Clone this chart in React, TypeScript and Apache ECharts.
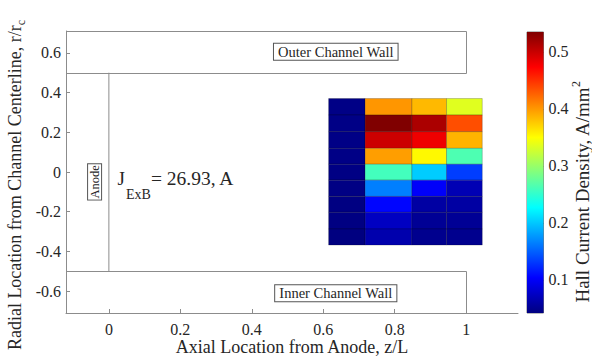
import React, { useEffect, useRef } from 'react';
import * as echarts from 'echarts';

const FONT = "'Liberation Serif', 'Times New Roman', serif";

// ---- Data ----
const zTicks = [0, 0.2, 0.4, 0.6, 0.8, 1];
const rTicks = [-0.6, -0.4, -0.2, 0, 0.2, 0.4, 0.6];
const cbTicks = [0.1, 0.2, 0.3, 0.4, 0.5];

// cell edges of the Hall current density map
const zEdges = [0.615, 0.717, 0.848, 0.945, 1.045];
const rEdges = [0.37, 0.287, 0.203, 0.119, 0.039, -0.041, -0.123, -0.203, -0.287, -0.368];

// Hall current density (A/mm^2), one array per axial column, rows top -> bottom
const col1 = [0.045, 0.045, 0.045, 0.045, 0.044, 0.044, 0.043, 0.043, 0.042];
const col2 = [0.401, 0.535, 0.498, 0.397, 0.259, 0.165, 0.106, 0.074, 0.064];
const col3 = [0.384, 0.514, 0.481, 0.353, 0.202, 0.101, 0.059, 0.052, 0.049];
const col4 = [0.335, 0.436, 0.387, 0.264, 0.133, 0.067, 0.059, 0.052, 0.049];
const columns = [col1, col2, col3, col4];

const densityMin = 0.042;
const densityMax = 0.535;

// axis extents
const zMin = -0.12;
const zMax = 1.145;
const rMin = -0.71;
const rMax = 0.71;

// channel geometry
const outerWall = [zMin, 1.0, 0.5, rMax];
const innerWall = [zMin, 1.0, rMin, -0.5];
const anodeLine = [[0, -0.5], [0, 0.5]];

const jExB = 26.93;

const jet = ['#000080', '#0000ff', '#0080ff', '#00ffff', '#80ff80', '#ffff00', '#ff8000', '#ff0000', '#800000'];

const cells: number[][] = [];
columns.forEach((col, j) => {
  col.forEach((v, i) => {
    cells.push([zEdges[j], zEdges[j + 1], rEdges[i + 1], rEdges[i], v]);
  });
});

const TEXT = '#262626';
const LINE = '#8c8c8c';

function tickText(text: string, x: number, y: number, align: string, verticalAlign: string) {
  return {
    type: 'text', x, y,
    style: { text, fontFamily: FONT, fontSize: 16, fill: TEXT, align, verticalAlign },
  };
}

function buildOption() {
  return {
    animation: false,
    textStyle: { fontFamily: FONT, color: TEXT },
    grid: [
      { left: 66, top: 31, width: 452, height: 282, show: false, containLabel: false, outerBoundsMode: 'none' },
      { left: 527, top: 32, width: 16.5, height: 281, show: true, borderColor: '#7a7a7a', borderWidth: 1, backgroundColor: 'transparent', containLabel: false, outerBoundsMode: 'none' },
    ],
    xAxis: [
      {
        type: 'value', gridIndex: 0, min: zMin, max: zMax,
        name: 'Axial Location from Anode, z/L', nameLocation: 'middle', nameGap: 25,
        nameTextStyle: { fontFamily: FONT, fontSize: 18, color: TEXT },
        axisLine: { onZero: false, lineStyle: { color: LINE, width: 1 } },
        axisTick: { inside: true, length: 4, lineStyle: { color: LINE }, customValues: zTicks },
        axisLabel: { show: false },
        splitLine: { show: false },
      },
      { type: 'value', gridIndex: 1, min: 0, max: 1, show: false },
    ],
    yAxis: [
      {
        type: 'value', gridIndex: 0, min: rMin, max: rMax,
        axisLine: { show: true, onZero: false, lineStyle: { color: LINE, width: 1 } },
        axisTick: { show: true, inside: true, length: 4, lineStyle: { color: LINE }, customValues: rTicks },
        axisLabel: { show: false },
        splitLine: { show: false },
      },
      {
        type: 'value', gridIndex: 1, min: densityMin, max: densityMax, position: 'right',
        axisLine: { show: false, onZero: false },
        axisTick: { show: true, inside: true, length: 3, lineStyle: { color: '#555' }, customValues: cbTicks },
        axisLabel: { show: false },
        splitLine: { show: false },
      },
    ],
    visualMap: {
      show: false, type: 'continuous', seriesIndex: 0, dimension: 4,
      min: densityMin, max: densityMax, inRange: { color: jet },
    },
    graphic: [
      {
        type: 'text', x: 15, y: 185, rotation: Math.PI / 2,
        style: {
          text: 'Radial Location from Channel Centerline, r/r{s|c}', fontFamily: FONT, fontSize: 18, fill: TEXT,
          align: 'center', verticalAlign: 'middle',
          rich: { s: { fontFamily: FONT, fontSize: 12, fill: TEXT, padding: [12, 0, 0, 0] } },
        },
      },
      {
        type: 'text', x: 582, y: 192, rotation: Math.PI / 2,
        style: {
          text: 'Hall Current Density, A/mm{p|2}', fontFamily: FONT, fontSize: 19, fill: TEXT,
          align: 'center', verticalAlign: 'middle',
          rich: { p: { fontFamily: FONT, fontSize: 12, fill: TEXT, padding: [0, 0, 12, 0] } },
        },
      },
    ],
    series: [
      {
        type: 'custom', name: 'Hall current density', xAxisIndex: 0, yAxisIndex: 0,
        data: cells, encode: { x: [0, 1], y: [2, 3] },
        renderItem: (params: any, api: any) => {
          const p0 = api.coord([api.value(0), api.value(3)]);
          const p1 = api.coord([api.value(1), api.value(2)]);
          return {
            type: 'rect',
            shape: { x: p0[0], y: p0[1], width: p1[0] - p0[0], height: p1[1] - p0[1] },
            style: { fill: api.visual('color'), stroke: 'rgba(0,0,0,0.3)', lineWidth: 0.7 },
          };
        },
        z: 3,
      },
      {
        type: 'custom', name: 'walls', xAxisIndex: 0, yAxisIndex: 0,
        data: [outerWall, innerWall], encode: { x: [0, 1], y: [2, 3] },
        renderItem: (params: any, api: any) => {
          const p0 = api.coord([api.value(0), api.value(3)]);
          const p1 = api.coord([api.value(1), api.value(2)]);
          const x0 = Math.round(p0[0]) + 0.5, y0 = Math.round(p0[1]) + 0.5;
          const x1 = Math.round(p1[0]) + 0.5, y1 = Math.round(p1[1]) + 0.5;
          return {
            type: 'rect',
            shape: { x: x0, y: y0, width: x1 - x0, height: y1 - y0 },
            style: { fill: 'none', stroke: LINE, lineWidth: 1 },
          };
        },
        z: 2,
      },
      {
        type: 'line', name: 'anode', xAxisIndex: 0, yAxisIndex: 0,
        data: anodeLine, symbol: 'none', lineStyle: { color: LINE, width: 1 }, z: 2,
      },
      {
        type: 'custom', name: 'labels', xAxisIndex: 0, yAxisIndex: 0,
        data: [[0.635, 0.605, 0], [0.635, -0.61, 1], [-0.04, -0.05, 2], [0.024, -0.035, 3]],
        encode: { x: 0, y: 1 },
        renderItem: (params: any, api: any) => {
          const p = api.coord([api.value(0), api.value(1)]);
          const k = api.value(2);
          const boxStyle = { fill: TEXT, fontFamily: FONT, align: 'center', verticalAlign: 'middle', borderColor: '#555', borderWidth: 1, backgroundColor: '#fff' };
          if (k === 0 || k === 1) {
            return {
              type: 'text', x: p[0], y: p[1],
              style: { ...boxStyle, text: k === 0 ? 'Outer Channel Wall' : 'Inner Channel Wall', fontSize: 14.5, padding: [1, 4, 0, 4] },
            };
          }
          if (k === 2) {
            return {
              type: 'text', x: p[0], y: p[1], rotation: Math.PI / 2,
              style: { ...boxStyle, text: 'Anode', fontSize: 12.5, padding: [0, 1, 0, 1] },
            };
          }
          return {
            type: 'group', x: p[0], y: p[1],
            children: [
              { type: 'text', x: 0, y: 0, style: { text: 'J', fontFamily: FONT, fontSize: 19, fill: TEXT, align: 'left', verticalAlign: 'middle' } },
              { type: 'text', x: 8.5, y: 16, style: { text: 'ExB', fontFamily: FONT, fontSize: 14, fill: TEXT, align: 'left', verticalAlign: 'middle' } },
              { type: 'text', x: 33.5, y: 0, style: { text: '= ' + jExB.toFixed(2) + ', A', fontFamily: FONT, fontSize: 19.5, fill: TEXT, align: 'left', verticalAlign: 'middle' } },
            ],
          };
        },
        z: 4,
      },
      {
        type: 'custom', name: 'z tick labels', xAxisIndex: 0, yAxisIndex: 0,
        data: zTicks.map((z) => [z, rMin]), encode: { x: 0, y: 1 },
        renderItem: (params: any, api: any) => {
          const p = api.coord([api.value(0), api.value(1)]);
          return tickText(String(api.value(0)), p[0], p[1] + 8, 'center', 'top');
        },
        z: 4,
      },
      {
        type: 'custom', name: 'r tick labels', xAxisIndex: 0, yAxisIndex: 0,
        data: rTicks.map((r) => [zMin, r]), encode: { x: 0, y: 1 },
        renderItem: (params: any, api: any) => {
          const p = api.coord([api.value(0), api.value(1)]);
          return tickText(String(api.value(1)), p[0] - 5, p[1], 'right', 'middle');
        },
        z: 4,
      },
      {
        type: 'custom', name: 'colorbar', xAxisIndex: 1, yAxisIndex: 1,
        data: [[0, 1, densityMin, densityMax]], encode: { x: [0, 1], y: [2, 3] },
        renderItem: (params: any, api: any) => {
          const p0 = api.coord([api.value(0), api.value(3)]);
          const p1 = api.coord([api.value(1), api.value(2)]);
          return {
            type: 'rect',
            shape: { x: p0[0], y: p0[1], width: p1[0] - p0[0], height: p1[1] - p0[1] },
            style: {
              fill: {
                type: 'linear', x: 0, y: 1, x2: 0, y2: 0,
                colorStops: jet.map((c, i) => ({ offset: i / (jet.length - 1), color: c })),
              },
            },
          };
        },
        z: 1,
      },
      {
        type: 'custom', name: 'colorbar tick labels', xAxisIndex: 1, yAxisIndex: 1,
        data: cbTicks.map((v) => [1, v]), encode: { x: 0, y: 1 },
        renderItem: (params: any, api: any) => {
          const p = api.coord([api.value(0), api.value(1)]);
          return tickText(String(api.value(1)), p[0] + 5, p[1], 'left', 'middle');
        },
        z: 4,
      },
    ],
  };
}

export default function App() {
  const ref = useRef<HTMLDivElement>(null);
  useEffect(() => {
    const chart = echarts.init(ref.current!, null, { renderer: 'svg' });
    chart.setOption(buildOption() as any);
    return () => chart.dispose();
  }, []);
  return <div ref={ref} style={{ position: 'absolute', left: 0, top: 0, width: 592, height: 360, background: '#fff' }} />;
}
